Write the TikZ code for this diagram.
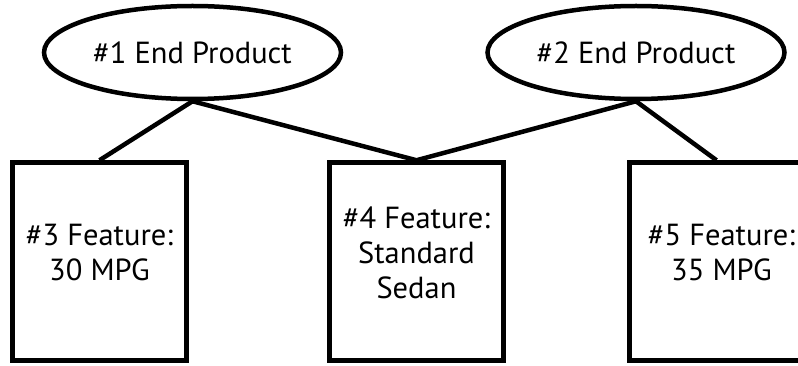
\documentclass[tikz,border=0pt]{standalone}
\usepackage{fontspec}
\setmainfont{PT Sans}
\usetikzlibrary{shapes.geometric}
\begin{document}
\begin{tikzpicture}[x=1pt,y=-1pt,
  line width=4.5pt,
  product/.style={draw, ellipse, inner sep=0pt, minimum width=297pt, minimum height=93pt},
  feature/.style={draw, rectangle, inner sep=0pt, minimum width=174pt, minimum height=198pt},
  caption/.style={align=center, inner sep=0pt, font=\fontsize{30.5}{35}\selectfont},
  link/.style={line join=round}]
  \useasboundingbox (0,0) rectangle (798,366);
  \clip (0,0) rectangle (798,366);

  % end products
  \node[product] (p1) at (192.5,52.5) {};
  \node[caption] (t1) at (p1.center) {\#1 End Product};
  \node[product] (p2) at (636,52.5) {};
  \node[caption] (t2) at (p2.center) {\#2 End Product};

  % features
  \node[feature] (f3) at (99.5,261.5) {};
  \node[feature] (f4) at (416.5,261.5) {};
  \node[feature] (f5) at (716.5,261.5) {};
  \node[caption] (t3) at ([yshift=9pt]f3.center) {\#3 Feature:\\30 MPG};
  \node[caption] (t4) at ([yshift=9pt]f4.center) {\#4 Feature:\\Standard\\Sedan};
  \node[caption] (t5) at ([xshift=5pt,yshift=9pt]f5.center) {\#5 Feature:\\35 MPG};

  % links between products and features
  \draw[link] (f3.north) -- (p1.south) -- (f4.north) -- (p2.south) -- (f5.north);
\end{tikzpicture}
\end{document}
